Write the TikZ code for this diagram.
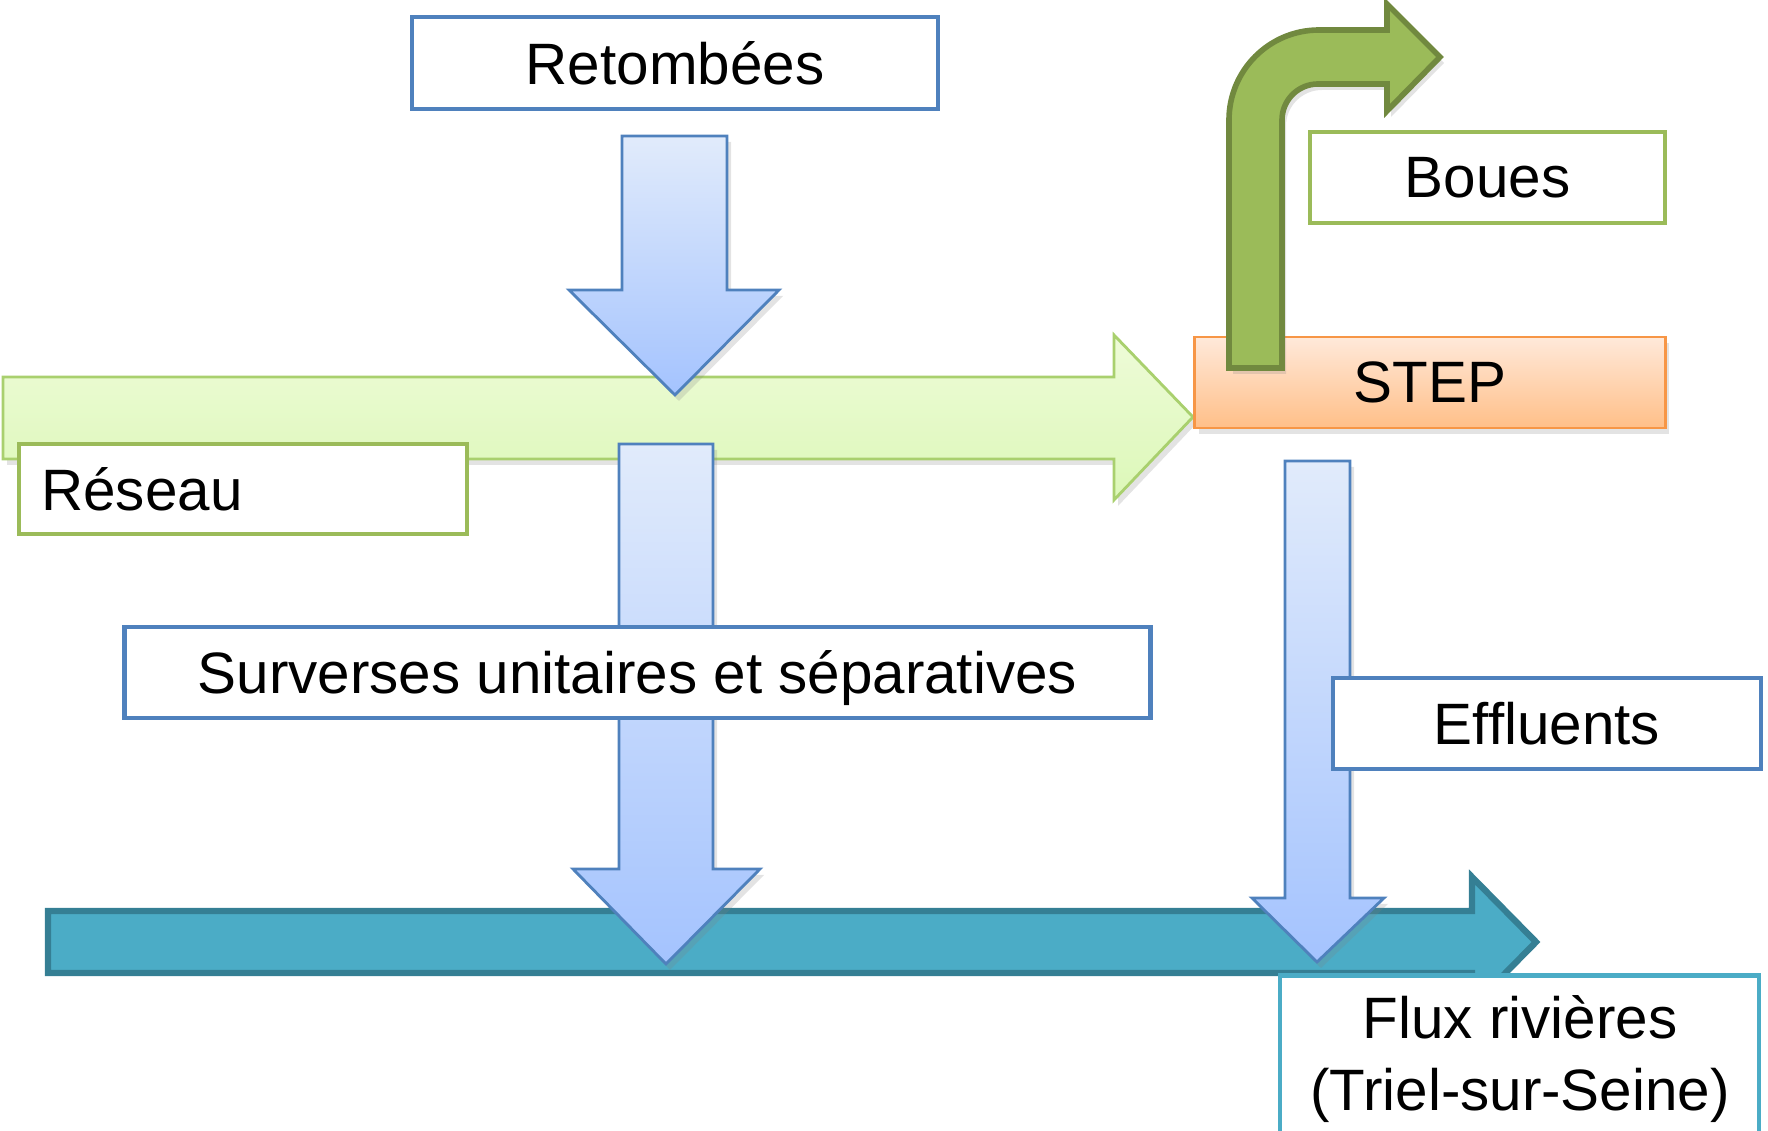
\documentclass[tikz,border=0pt]{standalone}
\usepackage{fontspec}
\setmainfont{Liberation Sans}
\usetikzlibrary{shadows}
\definecolor{bluebd}{HTML}{4F81BD}
\definecolor{greenbd}{HTML}{9BBB59}
\definecolor{bluetop}{HTML}{E1EBFB}
\definecolor{bluebot}{HTML}{A4C3FE}
\definecolor{lgtop}{HTML}{EEFBD8}
\definecolor{lgbot}{HTML}{DCF8B8}
\definecolor{lgbd}{HTML}{A9D06E}
\definecolor{tealfill}{HTML}{4BACC6}
\definecolor{tealbd}{HTML}{357F94}
\definecolor{steptop}{HTML}{FFE9DA}
\definecolor{stepbot}{HTML}{FFBF88}
\definecolor{stepbd}{HTML}{F79646}
\definecolor{sludge}{HTML}{9BBB59}
\definecolor{sludgebd}{HTML}{71893F}
\begin{document}
\begin{tikzpicture}[x=0.01cm,y=-0.01cm,
  font=\fontsize{16.6}{19.4}\selectfont,
  box/.style={draw, line width=1.3pt, fill=white, inner sep=0pt, align=center},
  bluebox/.style={box, draw=bluebd},
  greenbox/.style={box, draw=greenbd},
  softshadow/.style={drop shadow={opacity=0.22, shadow xshift=0.04cm, shadow yshift=-0.06cm}},
  blueflow/.style={draw=bluebd, line width=0.8pt, top color=bluetop, bottom color=bluebot, softshadow},
  netflow/.style={draw=lgbd, line width=0.8pt, top color=lgtop, bottom color=lgbot, softshadow},
  riverflow/.style={draw=tealbd, line width=1.8pt, fill=tealfill},
  sludgeflow/.style={draw=sludgebd, line width=1.6pt, fill=sludge, softshadow}]
\useasboundingbox (0,0) rectangle (1768,1131);

% Réseau flow (light green)
\path[netflow] (3,377) -- (1114,377) -- (1114,335) -- (1193,417) -- (1114,500) -- (1114,459) -- (3,459) -- cycle;
% river flow (teal)
\path[riverflow] (48,911) -- (1472,911) -- (1472,877) -- (1536,942) -- (1472,1007) -- (1472,973) -- (48,973) -- cycle;
% Retombées flow
\path[blueflow] (622,136) -- (727,136) -- (727,290) -- (779,290) -- (675,395) -- (569,290) -- (622,290) -- cycle;
% Surverses flow
\path[blueflow] (619,444) -- (713,444) -- (713,869) -- (760,869) -- (666,964) -- (573,869) -- (619,869) -- cycle;
% Effluents flow
\path[blueflow] (1285,461) -- (1350,461) -- (1350,898) -- (1384,898) -- (1317,962) -- (1252,898) -- (1285,898) -- cycle;

% boxes
\node[greenbox, minimum height=0.90cm, text width=4.03cm, inner xsep=0.225cm, align=left] (reseau) at (243,489) {Réseau};
\node[bluebox, minimum width=10.25cm, minimum height=0.91cm, text depth=0pt] (surverses) at (637.5,672.5) {Surverses unitaires et séparatives};
\node[bluebox, minimum width=4.28cm, minimum height=0.91cm] (effluents) at (1547,723.5) {Effluents};
\node[box, draw=tealfill, minimum width=4.79cm, minimum height=1.9cm, anchor=north] (flux) at (1519.5,973) {};
\node[align=center, font=\fontsize{16.6}{20.4}\selectfont] (fluxtxt) at (1520,1059) {Flux rivières\\(Triel-sur-Seine)};
\node[draw=stepbd, line width=0.8pt, top color=steptop, bottom color=stepbot, softshadow, minimum width=4.70cm, minimum height=0.91cm, inner sep=0pt] (step) at (1430,382.5) {STEP};

% sludge flow (bent arrow)
\path[sludgeflow] (1229,368) -- (1229,120) .. controls (1229,70.3) and (1269.3,30) .. (1319,30) -- (1387,30) -- (1387,4) -- (1440,57) -- (1387,111) -- (1387,84) -- (1318,84) .. controls (1298.1,84) and (1282,100.1) .. (1282,120) -- (1282,368) -- cycle;

\node[greenbox, minimum width=3.55cm, minimum height=0.91cm] (boues) at (1487.5,177.5) {Boues};
\node[bluebox, minimum width=5.26cm, minimum height=0.92cm] (retombees) at (675,63) {Retombées};
\end{tikzpicture}
\end{document}
